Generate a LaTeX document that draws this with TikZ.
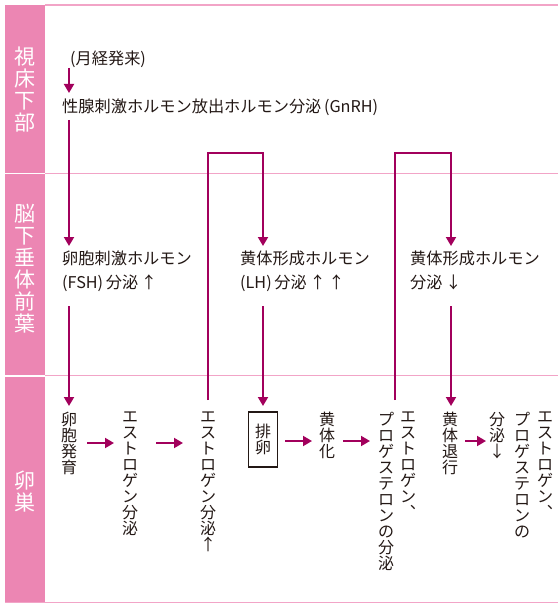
\documentclass[tikz,border=0pt]{standalone}
\usepackage{fontspec}
\setmainfont{Noto Sans CJK JP}
\usetikzlibrary{arrows.meta}
\definecolor{band}{HTML}{EC86B3}
\definecolor{rulepink}{HTML}{F2A4C7}
\definecolor{arr}{HTML}{A2005C}
\definecolor{ink}{HTML}{231815}
\begin{document}
\begin{tikzpicture}[x=1pt,y=-1pt,
  flow/.style={draw=arr, line width=1.9pt, -{Triangle[length=9pt,width=10pt]}},
  jtxt/.style={inner sep=0pt, text=ink, font=\fontsize{16.2}{24}\selectfont, align=left, anchor=base west},
  vtxt/.style={inner sep=0pt, text=ink, font=\fontsize{16}{16}\selectfont, align=center, anchor=north},
  bandtxt/.style={inner sep=0pt, text=white, font=\fontsize{21}{22}\selectfont, align=center},
  boxtxt/.style={draw=ink, line width=1.2pt, minimum width=29pt, minimum height=55pt, inner sep=0pt, text=ink, font=\fontsize{16}{16}\selectfont, align=center},
  rules/.style={draw=rulepink, line width=1.5pt}
]
\useasboundingbox (0,0) rectangle (558,607);
\fill[white] (0,0) rectangle (558,607);
% left band
\fill[band] (5,5) rectangle (45,172.5);
\fill[band] (5,174.3) rectangle (45,374.8);
\fill[band] (5,376.6) rectangle (45,602);
% rules
\draw[rules] (45,5) -- (558,5);
\draw[rules] (45,173.4) -- (558,173.4);
\draw[rules] (45,375.7) -- (558,375.7);
\draw[rules] (5,602.6) -- (558,602.6);
% band labels
\node[bandtxt] (lab1) at (25,89.5) {視\\床\\下\\部};
\node[bandtxt] (lab2) at (25,268.5) {脳\\下\\垂\\体\\前\\葉};
\node[bandtxt] (lab3) at (25,491.5) {卵\\巣};
% hypothalamus
\node[jtxt] (menarche) at (70,65) {(月経発来)};
\node[jtxt] (gnrh) at (62,113) {性腺刺激ホルモン放出ホルモン分泌\,(GnRH)};
% pituitary (anchor is the baseline of the last line)
\node[jtxt] (fsh) at (62,288.5) {卵胞刺激ホルモン\\(FSH)\,分泌\,↑};
\node[jtxt] (lh) at (240,288.5) {黄体形成ホルモン\\(LH)\,分泌\,↑\,↑};
\node[jtxt] (lhd) at (410,288.5) {黄体形成ホルモン\\分泌\,↓};
% ovary
\node[vtxt] (ov1) at (69,412) {卵\\胞\\発\\育};
\node[vtxt] (ov2) at (130,412) {エ\\ス\\ト\\ロ\\ゲ\\ン\\分\\泌};
\node[vtxt] (ov3) at (208,412) {エ\\ス\\ト\\ロ\\ゲ\\ン\\分\\泌\\↑};
\node[boxtxt] (ov4) at (263,439.5) {排\\卵};
\node[vtxt] (ov5) at (327,412) {黄\\体\\化};
\node[vtxt] (ov6a) at (408,412) {エ\\ス\\ト\\ロ\\ゲ\\ン\\︑};
\node[vtxt] (ov6b) at (386,412) {プ\\ロ\\ゲ\\ス\\テ\\ロ\\ン\\の\\分\\泌};
\node[vtxt] (ov7) at (450,412) {黄\\体\\退\\行};
\node[vtxt] (ov8a) at (545,412) {エ\\ス\\ト\\ロ\\ゲ\\ン\\︑};
\node[vtxt] (ov8b) at (522,412) {プ\\ロ\\ゲ\\ス\\テ\\ロ\\ン\\の};
\node[vtxt] (ov8c) at (497,412) {分\\泌\\↓};
% connector end points
\coordinate (a1s) at (69,68);   \coordinate (a1e) at (69,93);
\coordinate (a2s) at (69,120);  \coordinate (a2e) at (69,246);
\coordinate (b1s) at (208,400); \coordinate (b1m) at (263,153); \coordinate (b1e) at (263,246);
\coordinate (b2s) at (395,400); \coordinate (b2m) at (451,153); \coordinate (b2e) at (451,246);
\coordinate (c1s) at (69,306);  \coordinate (c1e) at (69,406);
\coordinate (c2s) at (263,306); \coordinate (c2e) at (263,406);
\coordinate (c3s) at (451,306); \coordinate (c3e) at (451,406);
\coordinate (h1s) at (87,443);  \coordinate (h1e) at (114,443);
\coordinate (h2s) at (156,443); \coordinate (h2e) at (183,443);
\coordinate (h3s) at (285,441); \coordinate (h3e) at (312,441);
\coordinate (h4s) at (343,441); \coordinate (h4e) at (370,441);
\coordinate (h5s) at (465,441); \coordinate (h5e) at (486,441);
% connectors
\draw[flow] (a1s) -- (a1e);
\draw[flow] (a2s) -- (a2e);
\draw[flow] (b1s) |- (b1m) -- (b1e);
\draw[flow] (b2s) |- (b2m) -- (b2e);
\draw[flow] (c1s) -- (c1e);
\draw[flow] (c2s) -- (c2e);
\draw[flow] (c3s) -- (c3e);
\draw[flow] (h1s) -- (h1e);
\draw[flow] (h2s) -- (h2e);
\draw[flow] (h3s) -- (h3e);
\draw[flow] (h4s) -- (h4e);
\draw[flow] (h5s) -- (h5e);
\end{tikzpicture}
\end{document}
